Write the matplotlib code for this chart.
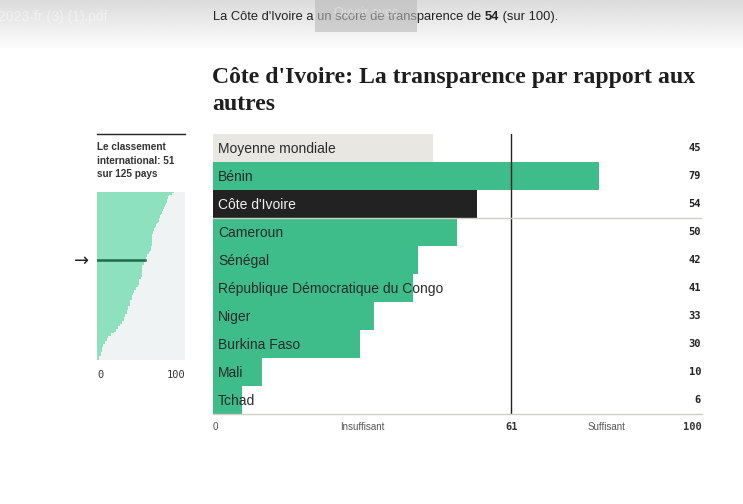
import numpy as np
import matplotlib.pyplot as plt
from matplotlib.patches import Rectangle

# main bars
countries = ["Moyenne mondiale", "Bénin", "Côte d'Ivoire", "Cameroun", "Sénégal",
             "République Démocratique du Congo", "Niger", "Burkina Faso", "Mali", "Tchad"]
scores = [45, 79, 54, 50, 42, 41, 33, 30, 10, 6]
threshold = 61

# ranking of all 125 countries (sorted)
all_scores = [87, 85, 82, 81, 81, 80, 80, 79, 78, 78,
              77, 76, 76, 75, 74, 74, 73, 72, 72, 71,
              70, 70, 69, 68, 67, 67, 66, 65, 65, 64,
              64, 63, 63, 63, 62, 62, 62, 62, 62, 62,
              61, 61, 61, 61, 60, 59, 57, 57, 56, 56,
              54, 54, 53, 53, 51, 51, 51, 51, 51, 51,
              51, 51, 51, 50, 50, 48, 48, 48, 48, 47,
              47, 44, 44, 42, 42, 41, 41, 40, 40, 40,
              38, 38, 37, 37, 37, 35, 35, 35, 34, 34,
              34, 32, 32, 31, 31, 31, 28, 28, 26, 26,
              24, 24, 22, 22, 19, 16, 16, 13, 13, 11,
              11, 9, 9, 7, 7, 6, 6, 6, 6, 4,
              4, 4, 2, 2, 2]
rank = 51

W, H = 743, 504
GREEN = "#3ebc89"
LIGHT_GREEN = "#8de1bf"

fig = plt.figure(figsize=(W / 100, H / 100), dpi=100)
fig.patch.set_facecolor("white")


def box(x0, y0, x1, y1):
    # pixel box (top-left origin) -> figure fraction
    return [x0 / W, 1 - y1 / H, (x1 - x0) / W, (y1 - y0) / H]


# top banner (pdf viewer bar)
bg = fig.add_axes([0, 0, 1, 1], zorder=-5)
bg.set_xlim(0, W)
bg.set_ylim(H, 0)
bg.axis("off")
grad = np.linspace(0.86, 0.99, 50).reshape(-1, 1)
bg.imshow(grad, cmap="gray", vmin=0, vmax=1, extent=(0, W, 48, 0), aspect="auto")
bg.imshow(np.ones((2, 2)), cmap="gray", vmin=0, vmax=1, extent=(0, W, H, 48), aspect="auto")
bg.text(-2, 17, "2023-fr (3) (1).pdf", color="white", alpha=0.45, fontsize=10,
        family="Liberation Sans", va="center", ha="left")

t1 = bg.text(213, 17, "La Côte d'Ivoire a un score de transparence de ", fontsize=9.3,
             family="Liberation Sans", color="#222222", va="center")
t2 = bg.annotate("54", xy=(1, 0), xycoords=t1, va="bottom", fontsize=9.3,
                 family="Liberation Sans", weight="bold", color="#222222")
bg.annotate(" (sur 100).", xy=(1, 0), xycoords=t2, va="bottom", fontsize=9.3,
            family="Liberation Sans", color="#222222")
bg.add_patch(Rectangle((315, 0), 102, 32, facecolor="#b9b9b9", alpha=0.6,
                       edgecolor="none", zorder=5))
bg.text(366, 13, "Ouvrir avec", color="white", alpha=0.35, fontsize=9,
        family="Liberation Sans", ha="center", va="center", zorder=6)

# title, sized so the first line spans the chart width
title = bg.text(212, 67, "Côte d'Ivoire: La transparence par rapport aux",
                fontsize=18, family="Liberation Serif", weight="bold", color="#1e1e1e",
                va="top", ha="left")
r = fig.canvas.get_renderer()
tw = title.get_window_extent(r).width
fs = 18 * 484 / tw
title.set_fontsize(fs)
bg.text(212, 67 + fs * 1.6, "autres", fontsize=fs, family="Liberation Serif",
        weight="bold", color="#1e1e1e", va="top", ha="left")

# left panel
bg.plot([97, 185], [134, 134], color="#222222", lw=1)
bg.text(97, 142, "Le classement\ninternational: 51\nsur 125 pays", fontsize=7.2,
        family="Liberation Sans", weight="bold", color="#333333", va="top",
        linespacing=1.45)
bg.text(82, 261, "→", fontsize=13, family="DejaVu Sans", color="#222222",
        ha="center", va="center")

mini = fig.add_axes(box(97, 192, 185, 360))
mini.set_facecolor("#eff3f3")
ypos = np.arange(len(all_scores))
mini.barh(ypos, all_scores, height=1.0, color=LIGHT_GREEN, edgecolor="none")
mini.plot([0, all_scores[rank - 1]], [rank - 1, rank - 1], color="#22694c", lw=1.8)
mini.set_xlim(0, 100)
mini.set_ylim(len(all_scores) - 0.5, -0.5)
for s in mini.spines.values():
    s.set_visible(False)
mini.set_yticks([])
mini.set_xticks([0, 100])
mini.set_xticklabels(["0", "100"], family="DejaVu Sans Mono", fontsize=7.5,
                     color="#333333")
mini.get_xticklabels()[0].set_ha("left")
mini.get_xticklabels()[1].set_ha("right")
mini.tick_params(axis="x", length=0, pad=7)

# main chart
ax = fig.add_axes(box(213, 134, 702, 414))
colors = ["#e9e7e2", GREEN, "#222222"] + [GREEN] * (len(countries) - 3)
y = np.arange(len(countries))
ax.barh(y, scores, height=1.0, color=colors, edgecolor="none")
ax.set_xlim(0, 100)
ax.set_ylim(len(countries) - 0.5, -0.5)
ax.axvline(threshold, color="#222222", lw=1)
ax.axhline(2.5, color="#cfcfc2", lw=1)
for i, (c, v) in enumerate(zip(countries, scores)):
    tc = "#f2f2f2" if i == 2 else "#2b2b2b"
    ax.text(1, i + 0.04, c, color=tc, fontsize=10, family="Liberation Sans",
            va="center", ha="left")
    ax.text(99.8, i, str(v), color="#222222", fontsize=7.5, weight="bold",
            family="DejaVu Sans Mono", va="center", ha="right")

for s in ["top", "right", "left"]:
    ax.spines[s].set_visible(False)
ax.spines["bottom"].set_color("#cfcfc2")
ax.spines["bottom"].set_linewidth(1)
ax.set_yticks([])
ax.set_xticks([0, 30.5, threshold, 80.5, 100])
ax.set_xticklabels(["0", "Insuffisant", "61", "Suffisant", "100"])
ax.tick_params(axis="x", length=0, pad=6)
labs = ax.get_xticklabels()
for lab in labs:
    lab.set_fontsize(7)
    lab.set_color("#555555")
    lab.set_family("Liberation Sans")
for k in (2, 4):
    labs[k].set_family("DejaVu Sans Mono")
    labs[k].set_weight("bold")
    labs[k].set_color("#333333")
    labs[k].set_fontsize(7.5)
labs[0].set_ha("left")
labs[4].set_ha("right")

fig.savefig("out.png", dpi=100)
